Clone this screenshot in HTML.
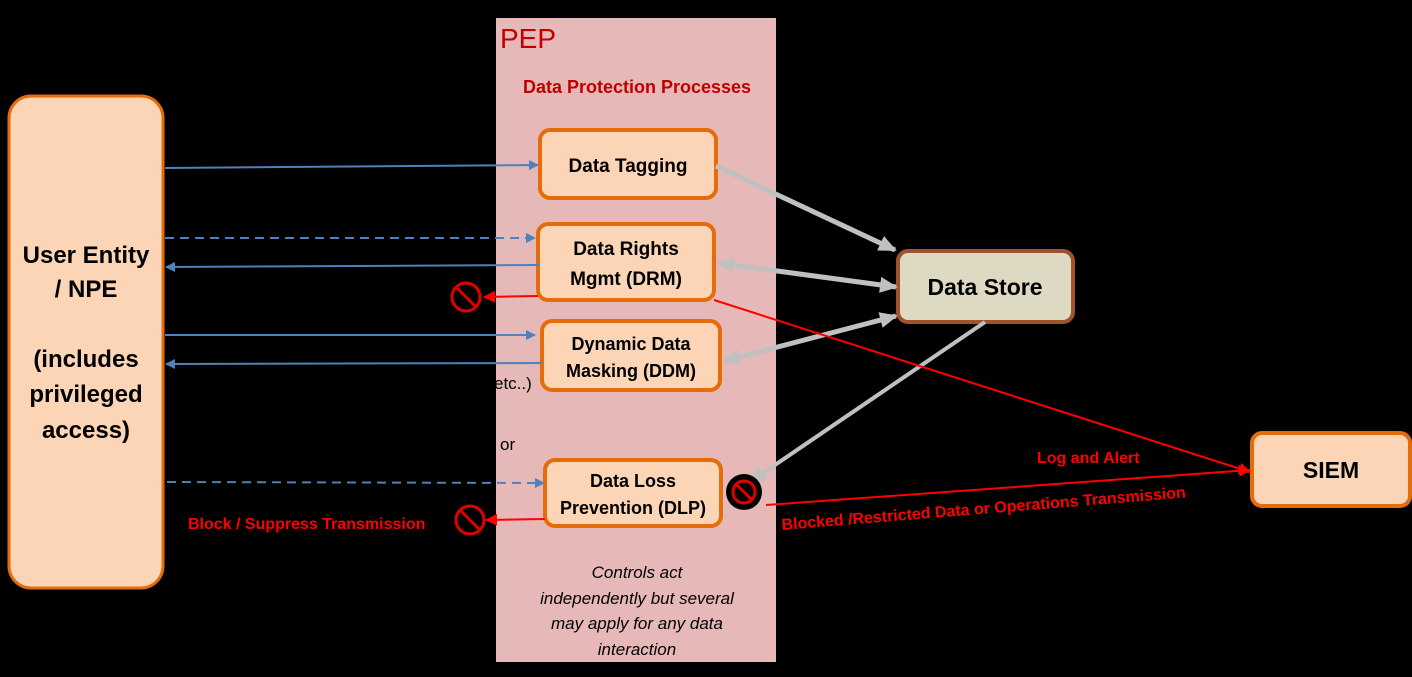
<!DOCTYPE html>
<html><head><meta charset="utf-8"><style>
html,body{margin:0;padding:0;background:#000;}
svg{display:block;}
text{font-family:"Liberation Sans",sans-serif;}
</style></head><body>
<svg width="1412" height="677" viewBox="0 0 1412 677" xmlns="http://www.w3.org/2000/svg">
<defs>
<marker id="ab" markerWidth="10" markerHeight="10" refX="9" refY="5" orient="auto" markerUnits="userSpaceOnUse"><path d="M0,0 L10,5 L0,10 z" fill="#4f81bd"/></marker>
<marker id="ar" markerWidth="12" markerHeight="12" refX="11" refY="6" orient="auto" markerUnits="userSpaceOnUse"><path d="M0,0 L12,6 L0,12 z" fill="#ff0000"/></marker>
<marker id="ag" markerWidth="18" markerHeight="16" refX="16" refY="8" orient="auto-start-reverse" markerUnits="userSpaceOnUse"><path d="M0,0 L18,8 L0,16 z" fill="#c0c0c0"/></marker>
</defs>
<rect width="1412" height="677" fill="#000"/>
<rect x="496" y="18" width="280" height="644" fill="#e6b8b7"/>
<text x="500" y="48" font-size="28" fill="#c00000">PEP</text>
<text x="637" y="93" font-size="18" font-weight="bold" fill="#c00000" text-anchor="middle">Data Protection Processes</text>

<rect x="9" y="96" width="154" height="492" rx="22" fill="#fbd5b5" stroke="#e46c0a" stroke-width="3"/>
<g font-size="24" font-weight="bold" fill="#000" text-anchor="middle">
<text x="86" y="263">User Entity</text><text x="86" y="297">/ NPE</text>
<text x="86" y="367">(includes</text><text x="86" y="402">privileged</text><text x="86" y="438">access)</text>
</g>

<g fill="#fbd5b5" stroke="#e46c0a" stroke-width="4">
<rect x="540" y="130" width="176" height="68" rx="10"/>
<rect x="538" y="224" width="176" height="76" rx="10"/>
<rect x="542" y="321" width="178" height="69" rx="10"/>
<rect x="545" y="460" width="176" height="66" rx="10"/>
<rect x="1252" y="433" width="158" height="73" rx="10"/>
</g>
<rect x="898" y="251" width="175" height="71" rx="10" fill="#ddd9c3" stroke="#a0522d" stroke-width="4"/>
<g font-size="19" font-weight="bold" fill="#000" text-anchor="middle">
<text x="628" y="172">Data Tagging</text>
<text x="626" y="255">Data Rights</text><text x="626" y="285">Mgmt (DRM)</text>
<text x="631" y="350" font-size="18">Dynamic Data</text><text x="631" y="377" font-size="18">Masking (DDM)</text>
<text x="633" y="487" font-size="18">Data Loss</text><text x="633" y="514" font-size="18">Prevention (DLP)</text>
<text x="985" y="295" font-size="23">Data Store</text>
<text x="1331" y="478" font-size="23">SIEM</text>
</g>

<text x="494" y="389" font-size="17" fill="#000">etc..)</text>
<text x="500" y="450" font-size="17" fill="#000">or</text>
<g font-size="17" font-style="italic" fill="#000" text-anchor="middle">
<text x="637" y="578">Controls act</text><text x="637" y="604">independently but several</text>
<text x="637" y="629">may apply for any data</text><text x="637" y="655">interaction</text>
</g>

<g stroke="#4f81bd" stroke-width="2" fill="none">
<line x1="165" y1="168" x2="538" y2="165" marker-end="url(#ab)"/>
<line x1="165" y1="238" x2="535" y2="238" stroke-dasharray="9,6" marker-end="url(#ab)"/>
<line x1="540" y1="265" x2="166" y2="267" marker-end="url(#ab)"/>
<line x1="165" y1="335" x2="535" y2="335" marker-end="url(#ab)"/>
<line x1="542" y1="363" x2="166" y2="364" marker-end="url(#ab)"/>
<line x1="167" y1="482" x2="544" y2="483" stroke-dasharray="9,6" marker-end="url(#ab)"/>
</g>

<g stroke="#c0c0c0" stroke-width="5" fill="none">
<line x1="716" y1="166" x2="895" y2="250" marker-end="url(#ag)"/>
<line x1="718" y1="263" x2="896" y2="287" marker-start="url(#ag)" marker-end="url(#ag)"/>
<line x1="724" y1="361" x2="896" y2="316" marker-start="url(#ag)" marker-end="url(#ag)"/>
<line x1="985" y1="322" x2="750" y2="482" stroke-width="4" marker-end="url(#ag)"/>
</g>

<g stroke="#ff0000" stroke-width="2" fill="none">
<line x1="538" y1="296" x2="484" y2="297" marker-end="url(#ar)"/>
<line x1="545" y1="519" x2="486" y2="520" marker-end="url(#ar)"/>
<line x1="714" y1="300" x2="1250" y2="472" marker-end="url(#ar)"/>
<line x1="766" y1="505" x2="1250" y2="470" marker-end="url(#ar)"/>
</g>

<g stroke="#e00000" stroke-width="3" fill="none">
<circle cx="466" cy="297" r="14"/><line x1="456" y1="287" x2="476" y2="307"/>
<circle cx="470" cy="520" r="14"/><line x1="460" y1="510" x2="480" y2="530"/>
</g>
<circle cx="744" cy="492" r="18" fill="#000"/>
<g stroke="#e00000" stroke-width="3" fill="none"><circle cx="744" cy="492" r="11"/><line x1="736" y1="484" x2="752" y2="500"/></g>

<g font-size="16" font-weight="bold" fill="#ff0000">
<text x="1037" y="463">Log and Alert</text>
<text x="188" y="529">Block / Suppress Transmission</text>
<text x="782" y="530" transform="rotate(-4.6 782 530)">Blocked /Restricted Data or Operations Transmission</text>
</g>
</svg>
</body></html>
